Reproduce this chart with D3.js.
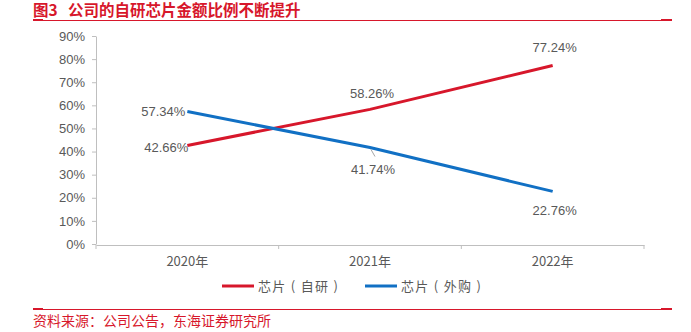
<!DOCTYPE html>
<html><head><meta charset="utf-8">
<script src="https://cdn.jsdelivr.net/npm/d3@7"></script>
<style>body{margin:0;background:#fff;} svg{display:block;font-family:"Liberation Sans","Noto Sans CJK SC",sans-serif;}</style>
</head><body>
<script>
const categories = ["2020年","2021年","2022年"];
const selfMade = [42.66, 58.26, 77.24];
const purchased = [57.34, 41.74, 22.76];
const seriesNames = ["芯片 ( 自研 )","芯片 ( 外购 )"];
const yTicks = [0,10,20,30,40,50,60,70,80,90];

const W=691,H=332;
const svg=d3.select("body").append("svg").attr("width",W).attr("height",H);
const red="#d7172b", blue="#1170c4", gray="#595959", cjk='"Noto Sans CJK SC",sans-serif';

// header
const tt=svg.append("text").attr("y",16).attr("fill",red).attr("font-size",15.5).attr("font-weight","bold")
  .style("font-family",cjk);
tt.append("tspan").attr("x",33).text("图3");
tt.append("tspan").attr("x",68).text("公司的自研芯片金额比例不断提升");
function rule(yy){
  svg.append("line").attr("x1",33).attr("x2",672).attr("y1",yy).attr("y2",yy).attr("stroke",red).attr("stroke-width",1);
  svg.append("line").attr("x1",33).attr("x2",43).attr("y1",yy-0.5).attr("y2",yy-0.5).attr("stroke",red).attr("stroke-width",2);
  svg.append("line").attr("x1",661).attr("x2",672).attr("y1",yy-0.5).attr("y2",yy-0.5).attr("stroke",red).attr("stroke-width",2);
}
rule(20.5);
rule(309.5);
svg.append("text").attr("x",33).attr("y",326).attr("fill",red).attr("font-size",14)
  .style("font-family",cjk).text("资料来源：公司公告，东海证券研究所");

const x=d3.scaleBand().domain(categories).range([96,644]);
const y=d3.scaleLinear().domain([0,90]).range([244,36]);
const cx=d=>x(d)+x.bandwidth()/2;

// y axis
const ya=svg.append("g").attr("transform","translate(96,0)")
  .call(d3.axisLeft(y).tickValues(yTicks).tickFormat(d=>d+"%").tickSize(4).tickSizeOuter(0));
ya.select(".domain").attr("stroke","#bfbfbf");
ya.selectAll(".tick line").attr("stroke","#bfbfbf");
ya.selectAll("text").attr("fill",gray).attr("font-size",13).attr("dx",-4).style("font-family",'"Liberation Sans",sans-serif');

// x axis
const xa=svg.append("g").attr("transform","translate(0,245)")
  .call(d3.axisBottom(x).tickSize(0).tickSizeOuter(0));
xa.select(".domain").attr("stroke","#bfbfbf");
xa.selectAll("text").attr("fill",gray).attr("font-size",13).attr("dy",18).style("font-family",cjk);
[...x.domain().map(d=>x(d)),644].forEach(v=>{
  svg.append("line").attr("x1",v).attr("x2",v).attr("y1",245).attr("y2",249).attr("stroke","#bfbfbf");
});

// lines
const line=d3.line().x((d,i)=>cx(categories[i])).y(d=>y(d));
svg.append("path").datum(selfMade).attr("d",line).attr("fill","none").attr("stroke",red).attr("stroke-width",3);
svg.append("path").datum(purchased).attr("d",line).attr("fill","none").attr("stroke",blue).attr("stroke-width",3);

// data labels
const lab=(xx,yy,t,anchor)=>svg.append("text").attr("x",xx).attr("y",yy).attr("text-anchor",anchor||"middle")
  .attr("fill",gray).attr("font-size",13).style("font-family",'"Liberation Sans",sans-serif').text(t);
const fmt=v=>v.toFixed(2)+"%";
lab(cx(categories[0])-2,y(purchased[0])+5,fmt(purchased[0]),"end");
lab(cx(categories[0])+1,y(selfMade[0])+7,fmt(selfMade[0]),"end");
lab(cx(categories[1])+2,y(selfMade[1])-11,fmt(selfMade[1]));
lab(cx(categories[1])+3,y(purchased[1])+26,fmt(purchased[1]));
svg.append("line").attr("x1",cx(categories[1])+1).attr("y1",y(purchased[1])+2)
  .attr("x2",cx(categories[1])+5).attr("y2",y(purchased[1])+9).attr("stroke","#a6a6a6");
lab(cx(categories[2])+2,y(selfMade[2])-13,fmt(selfMade[2]));
lab(cx(categories[2])+2,y(purchased[2])+24,fmt(purchased[2]));

// legend
const lg=[{n:seriesNames[0],c:red,x:222},{n:seriesNames[1],c:blue,x:365}];
lg.forEach(d=>{
  svg.append("line").attr("x1",d.x).attr("x2",d.x+32).attr("y1",286).attr("y2",286).attr("stroke",d.c).attr("stroke-width",3);
  svg.append("text").attr("x",d.x+36).attr("y",291).attr("fill",gray).attr("font-size",13).style("font-family",cjk)
    .attr("textLength",80).attr("lengthAdjust","spacing").text(d.n);
});
</script>
</body></html>
